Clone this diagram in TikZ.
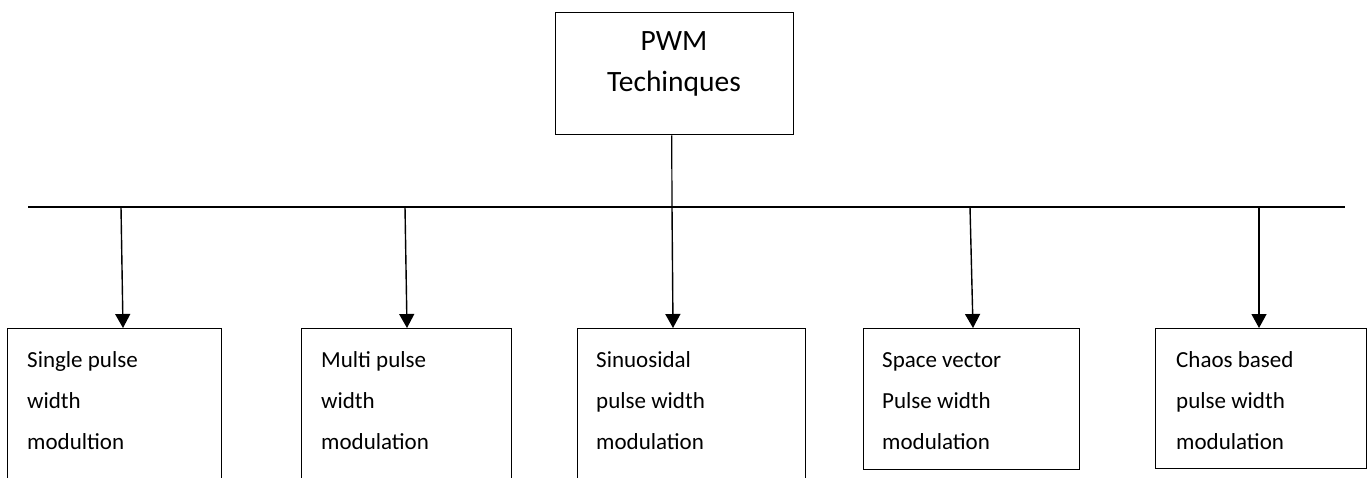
\documentclass[tikz,border=0pt]{standalone}
\usepackage{fontspec}
\setmainfont{Carlito}
\usetikzlibrary{arrows.meta,calc}
\begin{document}
\begin{tikzpicture}[x=1pt,y=-1pt,
  boxstyle/.style={draw, line width=1.4pt, inner sep=0pt, anchor=north west},
  lbl/.style={anchor=base west, align=left, inner sep=0pt, font=\fontsize{23}{41}\selectfont},
  toplbl/.style={anchor=base, align=center, inner sep=0pt, font=\fontsize{29.5}{41}\selectfont},
  arr/.style={line width=1.4pt, -{Triangle[width=15pt,length=14pt]}},
  bus/.style={line width=1.2pt}]
\useasboundingbox (0,0) rectangle (1367,478);
\clip (0,0) rectangle (1367,478);
% top box
\node[boxstyle, minimum width=238pt, minimum height=122pt] (top) at (555,12) {};
\node[toplbl] (toptext) at (674,92) {PWM\\Techinques};
% bottom boxes
\node[boxstyle, minimum width=214pt, minimum height=170pt] (b1) at (7,328) {};
\node[boxstyle, minimum width=210pt, minimum height=170pt] (b2) at (301,328) {};
\node[boxstyle, minimum width=228pt, minimum height=170pt] (b3) at (577,328) {};
\node[boxstyle, minimum width=216pt, minimum height=141pt] (b4) at (863,328) {};
\node[boxstyle, minimum width=211pt, minimum height=140pt] (b5) at (1155,328) {};
\node[lbl] (t1) at (27,449) {Single pulse\\width\\modultion};
\node[lbl] (t2) at (321,449) {Multi pulse\\width\\modulation};
\node[lbl] (t3) at (596,449) {Sinuosidal\\pulse width\\modulation};
\node[lbl] (t4) at (882,449) {Space vector\\Pulse width\\modulation};
\node[lbl] (t5) at (1176,449) {Chaos based\\pulse width\\modulation};
% bus
\coordinate (busL) at (28,207);
\coordinate (busR) at (1345,207);
\draw[bus] (busL) -- (busR);
\coordinate (j) at (672,207);
\draw[bus] ($(top.south)+(-3,0)$) -- (j);
% arrows
\coordinate (a1) at (121,207);
\coordinate (a2) at (405,207);
\coordinate (a3) at (672,207);
\coordinate (a4) at (970,207);
\coordinate (a5) at (1259,207);
\draw[arr] (a1) -- ($(b1.north west)+(116,0)$);
\draw[arr] (a2) -- ($(b2.north west)+(106,0)$);
\draw[arr] (a3) -- ($(b3.north west)+(96,0)$);
\draw[arr] (a4) -- ($(b4.north west)+(110,0)$);
\draw[arr] (a5) -- ($(b5.north west)+(104,0)$);
\end{tikzpicture}
\end{document}
